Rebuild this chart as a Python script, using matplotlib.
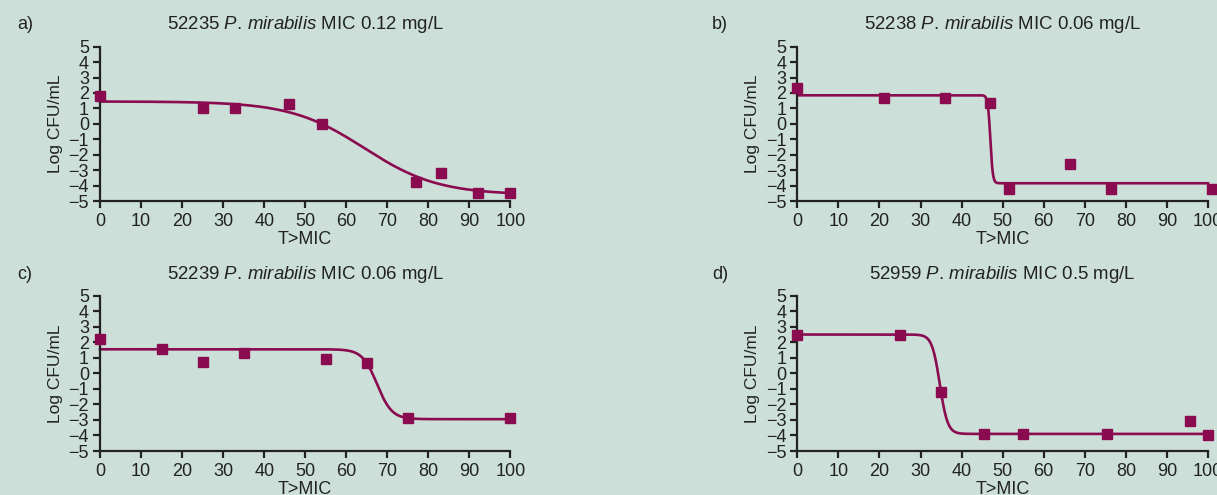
import numpy as np
import matplotlib
matplotlib.use('Agg')
import matplotlib.pyplot as plt

plt.rcParams['font.family'] = ['Liberation Sans', 'DejaVu Sans']
plt.rcParams['mathtext.fontset'] = 'custom'
plt.rcParams['mathtext.rm'] = 'Liberation Sans'
plt.rcParams['mathtext.it'] = 'Liberation Sans:italic'

bg = '#cce0d9'
purple = '#8a0b50'

panel_tags = ['a)', 'b)', 'c)', 'd)']
strains = ['52235', '52238', '52239', '52959']
mics = ['0.12', '0.06', '0.06', '0.5']

# measured points
x_a = [0, 25, 33, 46, 54, 77, 83, 92, 100]
y_a = [1.8, 1.0, 1.0, 1.3, 0.0, -3.8, -3.2, -4.5, -4.5]
x_b = [0, 21, 36, 47, 51.5, 66.5, 76.5, 101]
y_b = [2.35, 1.65, 1.65, 1.35, -4.25, -2.6, -4.25, -4.2]
x_c = [0, 15, 25, 35, 55, 65, 75, 100]
y_c = [2.2, 1.6, 0.75, 1.3, 0.95, 0.65, -2.85, -2.9]
x_d = [0, 25, 35, 45.5, 55, 75.5, 95.5, 100]
y_d = [2.5, 2.5, -1.2, -3.9, -3.9, -3.9, -3.1, -4.0]

# fitted sigmoid parameters per panel: top, bottom, T>MIC at 50%, width
fit_top = [1.45, 1.85, 1.55, 2.5]
fit_bottom = [-4.6, -3.85, -2.95, -3.9]
fit_t50 = [64.4, 47.0, 67.5, 34.7]
fit_width = [9.0, 0.3, 1.8, 0.95]

xs = [x_a, x_b, x_c, x_d]
ys = [y_a, y_b, y_c, y_d]

W, H = 1217, 495
fig = plt.figure(figsize=(W / 100, H / 100), dpi=100, facecolor=bg)

# axes boxes in pixels: left, top, right, bottom
boxes = [(100, 46.7, 510.5, 201), (797.3, 46.7, 1208, 201),
         (100, 295.7, 510.5, 451), (797.3, 295.7, 1208, 451)]
tag_x = [17, 712, 17, 712]
tag_y = [29, 29, 279, 279]

for i in range(4):
    l, t, r, b = boxes[i]
    ax = fig.add_axes([l / W, 1 - b / H, (r - l) / W, (b - t) / H])
    ax.set_facecolor(bg)
    ax.patch.set_alpha(0)

    tt = np.linspace(0, 100, 600)
    curve = fit_bottom[i] + (fit_top[i] - fit_bottom[i]) / (1 + np.exp((tt - fit_t50[i]) / fit_width[i]))
    ax.plot(tt, curve, color=purple, lw=1.9, zorder=2, clip_on=False)
    ax.plot(xs[i], ys[i], 's', color=purple, ms=6.5, mec=purple, zorder=3, clip_on=False)

    ax.set_xlim(0, 100)
    ax.set_ylim(-5, 5)
    ax.set_xticks(range(0, 101, 10))
    ax.set_yticks(range(-5, 6))
    for s in ['top', 'right']:
        ax.spines[s].set_visible(False)
    for s in ['left', 'bottom']:
        ax.spines[s].set_color('#222222')
        ax.spines[s].set_linewidth(1.6)
    ax.tick_params(direction='out', length=5, width=1.6, color='#222222',
                   labelsize=13, labelcolor='#222222', pad=3)
    ax.tick_params(axis='x', pad=4)
    ax.set_xlabel('T>MIC', fontsize=13, color='#222222', labelpad=0)
    ax.set_ylabel('Log CFU/mL', fontsize=12.5, color='#222222', labelpad=4)

    title = strains[i] + r' $\mathit{P.\/mirabilis}$' + ' MIC ' + mics[i] + ' mg/L'
    ax.text(0.5, 1 + (t - tag_y[i]) / (b - t), title,
            transform=ax.transAxes, ha='center', va='baseline',
            fontsize=13.4, color='#222222')
    fig.text(tag_x[i] / W, 1 - tag_y[i] / H, panel_tags[i], ha='left', va='baseline',
             fontsize=13, color='#222222')

fig.savefig('out.png', dpi=100, facecolor=bg)
